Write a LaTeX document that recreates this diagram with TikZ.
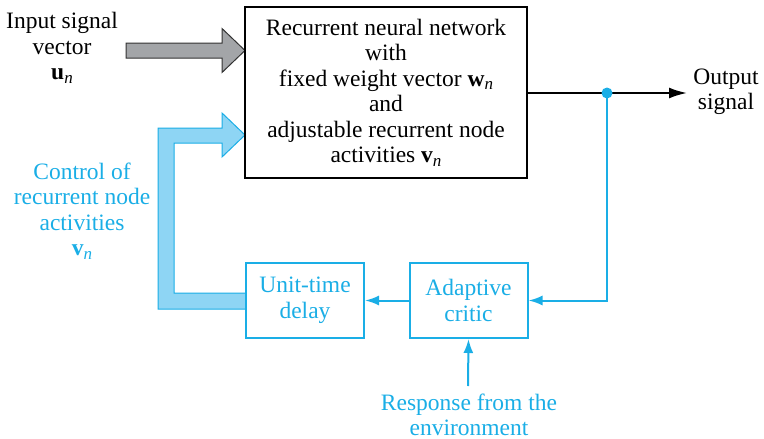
\documentclass[tikz,border=0pt]{standalone}
\usepackage{fontspec}
\setmainfont{Liberation Serif}
\usetikzlibrary{arrows.meta}
\definecolor{cblue}{HTML}{1AAEE6}
\definecolor{lblue}{HTML}{8ED5F4}
\definecolor{gfill}{HTML}{A3A5A8}
\definecolor{gline}{HTML}{333333}
\newcommand\vsub[2]{\textbf{#1}\raisebox{-0.35ex}{\fontsize{17}{17}\selectfont\itshape #2}}
\tikzset{
  txt/.style={align=center,inner sep=0pt,font=\fontsize{23.5}{25.5}\selectfont},
  bluetxt/.style={txt,text=cblue},
  mainbox/.style={txt,draw=black,line width=2pt,fill=white,minimum width=282pt,minimum height=171pt},
  bluebox/.style={txt,text=cblue,draw=cblue,line width=2pt,fill=white,minimum width=118pt,minimum height=75pt},
  blkarrow/.style={line width=2pt,-{Latex[length=18pt,width=11pt]}},
  bluearrow/.style={draw=cblue,line width=2pt,-{Latex[length=14pt,width=10pt]}},
}
\begin{document}
\begin{tikzpicture}[x=1pt,y=-1pt]
\useasboundingbox (0,0) rectangle (764,439);
% fat arrows
\draw[fill=gfill,draw=gline,line width=1pt,line join=miter]
  (126,43) -- (222,43) -- (222,28.5) -- (245,50.5) -- (222,72.5) -- (222,58) -- (126,58) -- cycle;
\draw[fill=lblue,draw=cblue,line width=1pt,line join=miter]
  (246,293) -- (174,293) -- (174,143) -- (222,143) -- (222,157) -- (245,135) -- (222,113) -- (222,128) -- (158,128) -- (158,309) -- (246,309) -- cycle;
% boxes
\node[mainbox] (rnn) at (386,92.5) {Recurrent neural network\\with\\fixed weight vector \vsub{w}{n}\\and\\adjustable recurrent node\\activities \vsub{v}{n}};
\node[bluebox] (delay) at (305,300.5) {Unit-time\\delay};
\node[bluebox] (critic) at (468.5,300.5) {Adaptive\\critic};
% labels
\node[txt] (inp) at (62,48) {Input signal\\vector\\\vsub{u}{n}};
\node[txt] (out) at (726,92) {Output\\signal};
\node[bluetxt] (ctrl) at (82,211) {Control of\\recurrent node\\activities\\\vsub{v}{n}};
\node[bluetxt] (resp) at (469,415) {Response from the\\environment};
% connectors
\coordinate (otip) at (687,93);
\coordinate (tap) at (607,93);
\coordinate (rs) at (468,386);
\draw[blkarrow] (rnn.east |- otip) -- (otip);
\draw[bluearrow] (tap) |- (critic.east);
\fill[cblue] (tap) circle (5.5pt);
\draw[bluearrow] (critic.west) -- (delay.east);
\draw[bluearrow] (rs) -- (critic.south);
\end{tikzpicture}
\end{document}
